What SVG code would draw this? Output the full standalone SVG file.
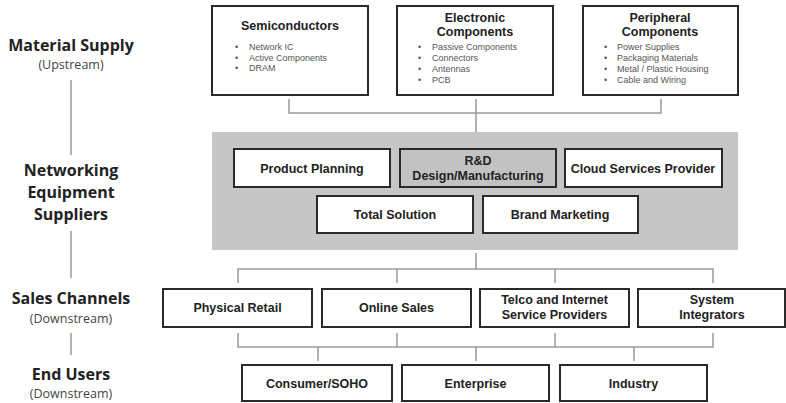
<svg xmlns="http://www.w3.org/2000/svg" width="786" height="403" viewBox="0 0 786 403">
<style>
.box{fill:#fff;stroke:#2a2a2a;stroke-width:2}
.gbox{fill:#c2c2c2;stroke:#2a2a2a;stroke-width:2}
.t{font-family:"Liberation Sans",Arial,sans-serif;font-weight:700;font-size:12.5px;fill:#222;text-anchor:middle}
.b{font-family:"Liberation Sans",Arial,sans-serif;font-size:9px;fill:#555}
.lab{font-family:"Open Sans","DejaVu Sans",sans-serif;font-weight:700;font-size:16px;fill:#222;text-anchor:middle}
.sub{font-family:"Open Sans","DejaVu Sans",sans-serif;font-size:12.5px;fill:#444;text-anchor:middle}
.ln{fill:none;stroke:#9a9a9a;stroke-width:1.5}
</style>
<rect width="786" height="403" fill="#fff"/>

<g id="left-labels">
<text class="lab" x="71" y="51">Material Supply</text>
<text class="sub" x="71" y="69">(Upstream)</text>
<text class="lab"><tspan x="71" y="176">Networking</tspan><tspan x="71" y="198">Equipment</tspan><tspan x="71" y="220">Suppliers</tspan></text>
<text class="lab" x="71" y="304">Sales Channels</text>
<text class="sub" x="71" y="323">(Downstream)</text>
<text class="lab" x="71" y="380">End Users</text>
<text class="sub" x="71" y="398">(Downstream)</text>
</g>

<g id="connectors">
<path class="ln" d="M71 80V155M71 231V278M71 333V355"/>
<path class="ln" d="M289 99V113H661V99M476 99V132"/>
<path class="ln" d="M476 253V269M238 283V269H713V283M397 269V283M555 269V283"/>
<path class="ln" d="M238 333V347H713V333M397 333V347M555 333V347M318 347V361M476 347V361M634 347V361"/>
</g>

<g id="semiconductors">
<rect class="box" x="212" y="6" width="156" height="89"/>
<text class="t" x="290" y="30">Semiconductors</text>
<text class="b"><tspan x="235" y="50">•</tspan><tspan x="249" y="50">Network IC</tspan><tspan x="235" y="60.5">•</tspan><tspan x="249" y="60.5">Active Components</tspan><tspan x="235" y="71">•</tspan><tspan x="249" y="71">DRAM</tspan></text>
</g>

<g id="electronic">
<rect class="box" x="397" y="6" width="156" height="89"/>
<text class="t"><tspan x="475" y="22">Electronic</tspan><tspan x="475" y="36">Components</tspan></text>
<text class="b"><tspan x="418" y="50">•</tspan><tspan x="432" y="50">Passive Components</tspan><tspan x="418" y="61">•</tspan><tspan x="432" y="61">Connectors</tspan><tspan x="418" y="72">•</tspan><tspan x="432" y="72">Antennas</tspan><tspan x="418" y="83">•</tspan><tspan x="432" y="83">PCB</tspan></text>
</g>

<g id="peripheral">
<rect class="box" x="583" y="6" width="155" height="89"/>
<text class="t"><tspan x="660" y="22">Peripheral</tspan><tspan x="660" y="36">Components</tspan></text>
<text class="b"><tspan x="604" y="50">•</tspan><tspan x="617" y="50">Power Supplies</tspan><tspan x="604" y="61">•</tspan><tspan x="617" y="61">Packaging Materials</tspan><tspan x="604" y="72">•</tspan><tspan x="617" y="72">Metal / Plastic Housing</tspan><tspan x="604" y="83">•</tspan><tspan x="617" y="83">Cable and Wiring</tspan></text>
</g>

<g id="suppliers">
<rect x="212" y="132" width="526" height="118" fill="#c6c6c6"/>
</g>

<g id="product-planning">
<rect class="box" x="234" y="149" width="156" height="38"/>
<text class="t" x="312" y="172.5">Product Planning</text>
</g>
<g id="rd">
<rect class="gbox" x="400" y="149" width="156" height="38"/>
<text class="t"><tspan x="478" y="165">R&amp;D</tspan><tspan x="478" y="180">Design/Manufacturing</tspan></text>
</g>
<g id="cloud">
<rect class="box" x="565" y="149" width="157" height="38"/>
<text class="t" x="643" y="172.5">Cloud Services Provider</text>
</g>
<g id="total-solution">
<rect class="box" x="317" y="196" width="156" height="37"/>
<text class="t" x="395" y="219">Total Solution</text>
</g>
<g id="brand-marketing">
<rect class="box" x="483" y="196" width="155" height="37"/>
<text class="t" x="560" y="219">Brand Marketing</text>
</g>

<g id="physical-retail">
<rect class="box" x="163" y="289" width="149" height="38"/>
<text class="t" x="237.5" y="312">Physical Retail</text>
</g>
<g id="online-sales">
<rect class="box" x="322" y="289" width="149" height="38"/>
<text class="t" x="396.5" y="312">Online Sales</text>
</g>
<g id="telco">
<rect class="box" x="480" y="289" width="149" height="38"/>
<text class="t"><tspan x="554.5" y="304">Telco and Internet</tspan><tspan x="554.5" y="318.5">Service Providers</tspan></text>
</g>
<g id="system-integrators">
<rect class="box" x="638" y="289" width="147" height="38"/>
<text class="t"><tspan x="712" y="304">System</tspan><tspan x="712" y="318.5">Integrators</tspan></text>
</g>

<g id="consumer">
<rect class="box" x="242" y="365" width="150" height="36"/>
<text class="t" x="317" y="387.5">Consumer/SOHO</text>
</g>
<g id="enterprise">
<rect class="box" x="402" y="365" width="147" height="36"/>
<text class="t" x="475.5" y="387.5">Enterprise</text>
</g>
<g id="industry">
<rect class="box" x="560" y="365" width="147" height="36"/>
<text class="t" x="633.5" y="387.5">Industry</text>
</g>
</svg>
